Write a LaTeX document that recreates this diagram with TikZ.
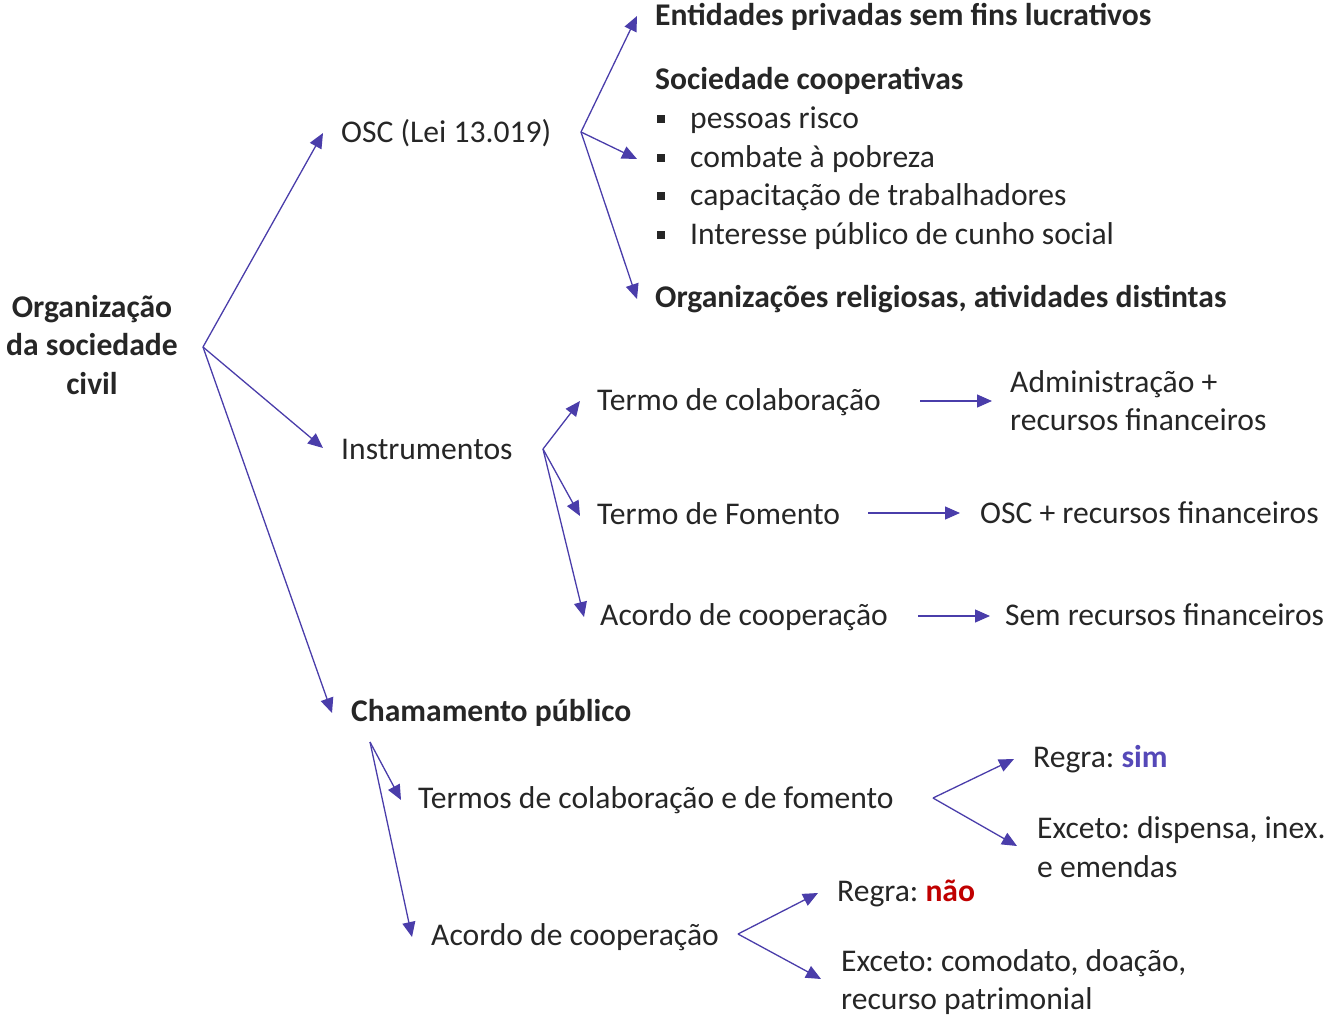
\documentclass[tikz,border=0pt]{standalone}
\usepackage{fontspec}
\setmainfont{Carlito}
\frenchspacing
\usetikzlibrary{arrows.meta}
\definecolor{txt}{HTML}{262626}
\definecolor{arrc}{HTML}{4A3DAA}
\definecolor{simc}{HTML}{5548B8}
\definecolor{naoc}{HTML}{C00000}
\begin{document}
\begin{tikzpicture}[x=1pt,y=-1pt,
  every node/.style={inner sep=0pt, text=txt, font=\fontsize{31.6}{38.5}\selectfont},
  lbl/.style={anchor=base west},
  bld/.style={anchor=base west, font=\fontsize{31.6}{38.5}\selectfont\bfseries},
  arr/.style={draw=arrc, line width=1.3pt, -{Triangle[length=15pt,width=13pt]}},
  bul/.style={fill=txt, minimum size=8pt, inner sep=0pt, rectangle}]
\useasboundingbox (0,0) rectangle (1334,1021);

% root
\node[anchor=center, align=center, font=\fontsize{31.6}{38.5}\selectfont\bfseries] (root) at (92,345) {Organização\\da sociedade\\civil};

% level 1
\node[lbl] (osc) at (341,142) {OSC (Lei 13.019)};
\node[lbl] (inst) at (341,459) {Instrumentos};
\node[bld] (cham) at (351,721) {Chamamento público};

% OSC branch
\node[bld] (ent) at (655,25) {Entidades privadas sem fins lucrativos};
\node[bld] (soc) at (655,89) {Sociedade cooperativas};
\node[bul] (b1) at (661,119) {};
\node[bul] (b2) at (661,158) {};
\node[bul] (b3) at (661,196) {};
\node[bul] (b4) at (661,235) {};
\node[lbl] (l1) at (690,128) {pessoas risco};
\node[lbl] (l2) at (690,167) {combate à pobreza};
\node[lbl] (l3) at (690,205) {capacitação de trabalhadores};
\node[lbl] (l4) at (690,244) {Interesse público de cunho social};
\node[bld] (org) at (655,307) {Organizações religiosas, atividades distintas};

% Instrumentos branch
\node[lbl] (tc) at (597,410) {Termo de colaboração};
\node[lbl] (adm) at (1010,392) {Administração +};
\node[lbl] (rec) at (1010,430) {recursos financeiros};
\node[lbl] (tf) at (597,524) {Termo de Fomento};
\node[lbl] (oscr) at (980,523) {OSC + recursos financeiros};
\node[lbl] (ac) at (600,625) {Acordo de cooperação};
\node[lbl] (sem) at (1005,625) {Sem recursos financeiros};

% Chamamento branch
\node[lbl] (tcf) at (418,808) {Termos de colaboração e de fomento};
\node[lbl] (rs) at (1033,767) {Regra: \textcolor{simc}{\bfseries sim}};
\node[lbl] (ex1) at (1037,838) {Exceto: dispensa, inex.};
\node[lbl] (ex2) at (1037,877) {e emendas};
\node[lbl] (ac2) at (431,945) {Acordo de cooperação};
\node[lbl] (rn) at (837,901) {Regra: \textcolor{naoc}{\bfseries não}};
\node[lbl] (ex3) at (841,971) {Exceto: comodato, doação,};
\node[lbl] (ex4) at (841,1009) {recurso patrimonial};

% branch points and tips
\coordinate (r) at (203,347);
\coordinate (rosc) at (323,133);
\coordinate (rinst) at (323,448);
\coordinate (rcham) at (332,713);
\coordinate (o) at (581,132);
\coordinate (oent) at (637,16);
\coordinate (osoc) at (637,159);
\coordinate (oorg) at (637,299);
\coordinate (i) at (543,449);
\coordinate (itc) at (580,401);
\coordinate (itf) at (580,516);
\coordinate (iac) at (584,617);
\coordinate (tcs) at (920,401);
\coordinate (tce) at (992,401);
\coordinate (tfs) at (868,513);
\coordinate (tfe) at (960,513);
\coordinate (acs) at (918,616);
\coordinate (ace) at (990,616);
\coordinate (c) at (370,742);
\coordinate (ctcf) at (401,800);
\coordinate (cac) at (412,937);
\coordinate (t) at (933,798);
\coordinate (trs) at (1014,759);
\coordinate (tex) at (1017,846);
\coordinate (a) at (738,934);
\coordinate (arn) at (818,893);
\coordinate (aex) at (821,979);

\draw[arr] (r) -- (rosc);
\draw[arr] (r) -- (rinst);
\draw[arr] (r) -- (rcham);
\draw[arr] (o) -- (oent);
\draw[arr] (o) -- (osoc);
\draw[arr] (o) -- (oorg);
\draw[arr] (i) -- (itc);
\draw[arr] (i) -- (itf);
\draw[arr] (i) -- (iac);
\draw[arr] (tcs) -- (tce);
\draw[arr] (tfs) -- (tfe);
\draw[arr] (acs) -- (ace);
\draw[arr] (c) -- (ctcf);
\draw[arr] (c) -- (cac);
\draw[arr] (t) -- (trs);
\draw[arr] (t) -- (tex);
\draw[arr] (a) -- (arn);
\draw[arr] (a) -- (aex);
\end{tikzpicture}
\end{document}
